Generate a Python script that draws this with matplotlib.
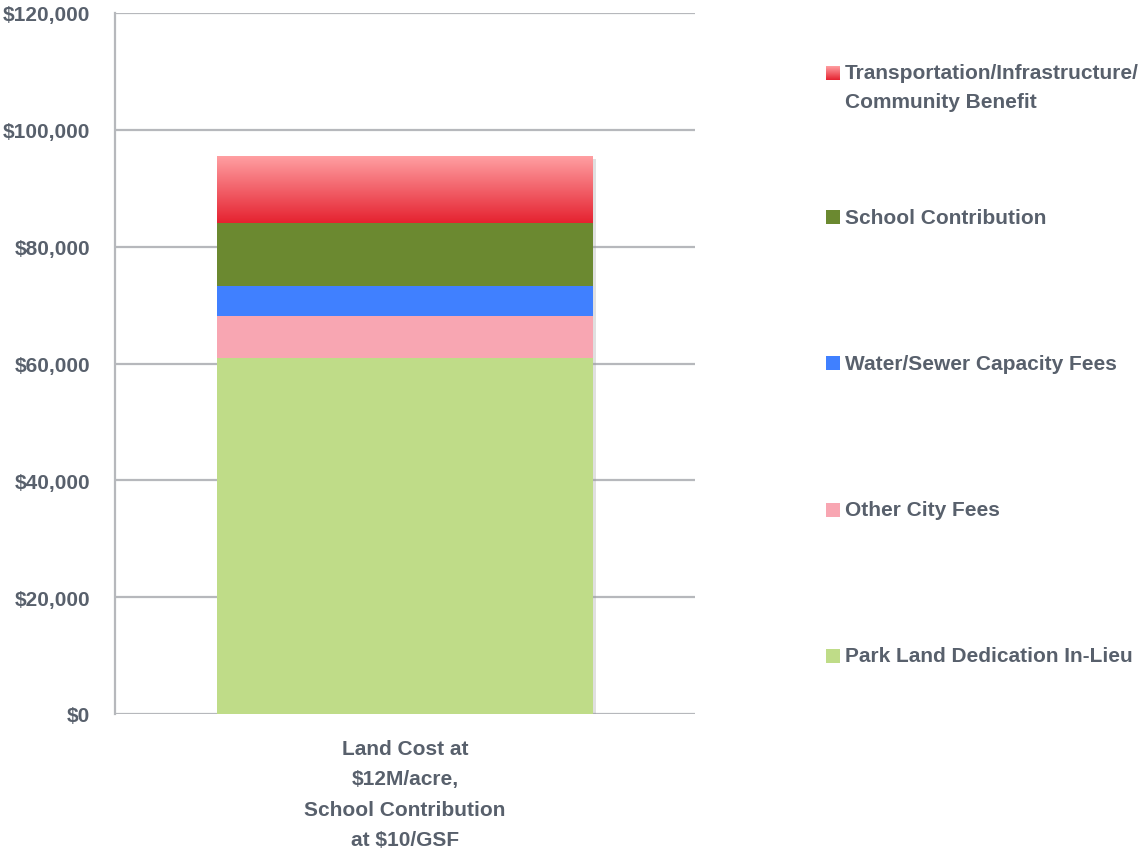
"""Stacked cost breakdown for a single land-cost scenario."""

import matplotlib

matplotlib.use("Agg")
import matplotlib.pyplot as plt  # noqa: E402
import numpy as np  # noqa: E402
from matplotlib import patheffects as pe  # noqa: E402
from matplotlib.colors import LinearSegmentedColormap  # noqa: E402
from matplotlib.patches import Rectangle  # noqa: E402
from matplotlib.ticker import FuncFormatter  # noqa: E402

CATEGORY = "Land Cost at\n$12M/acre,\nSchool Contribution\nat $10/GSF"
SERIES = [
    "Park Land Dedication In-Lieu",
    "Other City Fees",
    "Water/Sewer Capacity Fees",
    "School Contribution",
    "Transportation/Infrastructure/\nCommunity Benefit",
]
VALUES = [61000, 7200, 5100, 10800, 11300]
COLORS = ["#bfdc88", "#f8a6b2", "#4080ff", "#6b8930", "#e52230"]
YTICKS = [0, 20000, 40000, 60000, 80000, 100000, 120000]

TEXT = "#58606c"
GRID = "#b6b8bc"
RED_GRAD = LinearSegmentedColormap.from_list("redgrad", ["#e52230", "#ff9fa2"])

plt.rcParams["font.family"] = ["Liberation Sans", "DejaVu Sans"]
plt.rcParams["font.weight"] = "bold"
FS = 15

fig = plt.figure(figsize=(11.42, 8.54), dpi=100)
ax = fig.add_axes([115 / 1142, 1 - 715 / 854, 580 / 1142, 701 / 854])

width = 0.648
total = sum(VALUES)
# white backing bar carries the drop shadow for the whole stack
ax.bar(0, total, width=width, color="white", zorder=2,
       path_effects=[pe.SimplePatchShadow(offset=(2, -2), shadow_rgbFace="#999999", alpha=0.3),
                     pe.Normal()])

bottom = 0
bars = []
for val, col in zip(VALUES, COLORS):
    b = ax.bar(0, val, bottom=bottom, width=width, color=col, zorder=3, linewidth=0)
    bars.append(b[0])
    bottom += val

# gradient fill on the top segment
top = bars[-1]
x0, y0 = top.get_x(), top.get_y()
grad = np.linspace(0, 1, 256).reshape(-1, 1)
ax.imshow(grad, cmap=RED_GRAD, origin="lower", aspect="auto", zorder=4,
          extent=[x0, x0 + top.get_width(), y0, y0 + top.get_height()])

ax.set_xlim(-0.5, 0.5)
ax.set_ylim(0, 120000)
ax.set_yticks(YTICKS)
ax.yaxis.set_major_formatter(FuncFormatter(lambda v, _: f"${v:,.0f}"))
ax.set_xticks([0])
ax.set_xticklabels([CATEGORY], linespacing=1.75)
ax.tick_params(length=0, labelsize=FS, colors=TEXT)
ax.tick_params(axis="y", pad=18)
ax.tick_params(axis="x", pad=18)
ax.yaxis.grid(True, color=GRID, linewidth=1.6, zorder=1)
ax.set_axisbelow(True)
for side in ("top", "right", "bottom"):
    ax.spines[side].set_visible(False)
ax.spines["left"].set_color(GRID)
ax.spines["left"].set_linewidth(1.6)

# hand-placed legend, top entry first
legend_y = [86, 218, 364, 511, 657]
order = list(range(len(SERIES)))[::-1]
for y_px, i in zip(legend_y, order):
    two_lines = "\n" in SERIES[i]
    y = 1 - (y_px + (2 if two_lines else 0)) / 854
    ym = y + (14 / 854 if two_lines else 0)
    mx, my = 826 / 1142, ym - 7 / 854
    if i == len(SERIES) - 1:
        sq = fig.add_axes([mx, my, 14 / 1142, 14 / 854])
        sq.imshow(grad, cmap=RED_GRAD, origin="lower", aspect="auto")
        sq.axis("off")
    else:
        fig.patches.append(Rectangle((mx, my), 14 / 1142, 14 / 854, transform=fig.transFigure,
                                     facecolor=COLORS[i], edgecolor="none"))
    fig.text(845 / 1142, y, SERIES[i], fontsize=FS, color=TEXT, va="center",
             ha="left", linespacing=1.65)

fig.savefig("out.png", dpi=100)
